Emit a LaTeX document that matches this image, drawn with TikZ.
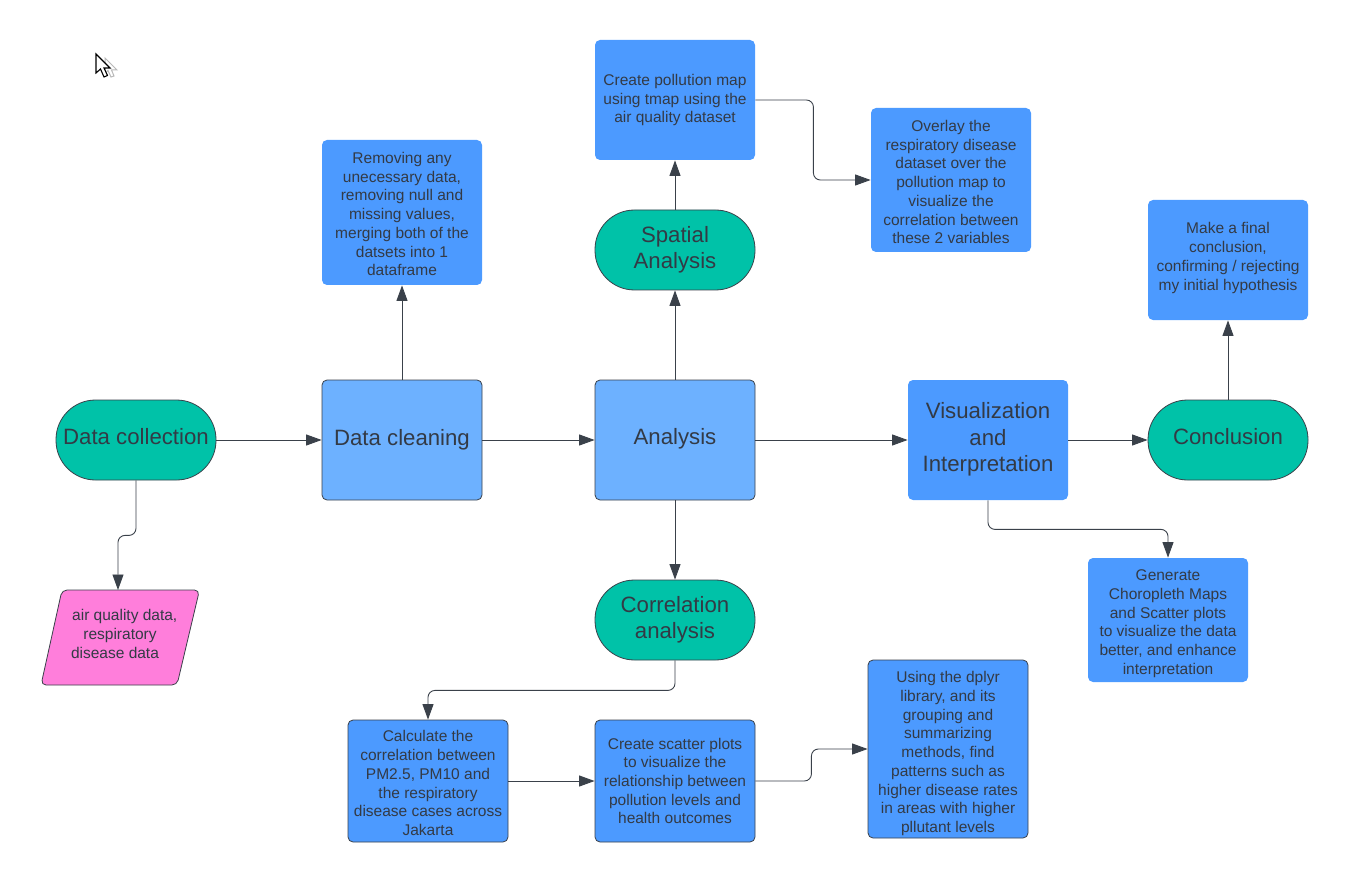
\documentclass[tikz,border=0pt]{standalone}
\usepackage{fontspec}
\setmainfont{Liberation Sans}
\usetikzlibrary{arrows.meta}
\definecolor{inkc}{HTML}{3A414A}
\definecolor{textc}{HTML}{333A45}
\definecolor{greenc}{HTML}{00C2A8}
\definecolor{lightb}{HTML}{6DB1FF}
\definecolor{midb}{HTML}{4C9AFF}
\definecolor{pinkc}{HTML}{FF7EDB}
\newcommand\dnby[1]{\rule{0pt}{\dimexpr 11.5pt+2\dimexpr #1pt\relax\relax}}
\newcommand\upby[1]{\rule[-\dimexpr 3.3pt+2\dimexpr #1pt\relax\relax]{0pt}{1pt}}
\tikzset{
  x=1pt,y=-1pt,
  basebox/.style={inner sep=0pt,align=center,text=textc,line width=0.8pt},
  big/.style={font=\fontsize{22.2}{26.6}\selectfont},
  small/.style={font=\fontsize{15.5}{18.7}\selectfont},
  term/.style={basebox,big,draw=inkc,fill=greenc,minimum width=160pt,minimum height=80pt,rounded corners=39.5pt},
  procbox/.style={basebox,big,draw=inkc,fill=lightb,minimum width=160pt,minimum height=120pt,rounded corners=5pt},
  note/.style={basebox,small,fill=midb,rounded corners=5pt,minimum width=160pt},
  notedark/.style={note,draw=inkc},
  conn/.style={draw=inkc,line width=0.9pt,-{Triangle[length=15.5pt,width=11pt]}},
  elbow/.style={conn,rounded corners=7pt},
}
\begin{document}
\begin{tikzpicture}
\useasboundingbox (0,0) rectangle (1348,882);
\fill[white] (0,0) rectangle (1348,882);
% nodes
\node[term] (dc) at (136,440) {Data collection\upby{1.5}};
\node[procbox] (clean) at (402,440) {\dnby{1}Data cleaning};
\node[procbox] (ana) at (675,440) {Analysis\upby{2}};
\node[note,big,minimum height=120pt] (viz) at (988,440) {Visualization\\and\\Interpretation\upby{1}};
\node[term] (conc) at (1228,440) {Conclusion\upby{1.5}};
\node[term] (spa) at (675,250) {Spatial\\Analysis\upby{1}};
\node[term] (corr) at (675,620) {Correlation\\analysis\upby{1}};
\node[note,minimum height=145pt] (rem) at (402,212.5) {\dnby{1.5}Removing any\\unecessary data,\\removing null and\\missing values,\\merging both of the\\datsets into 1\\dataframe};
\node[note,minimum height=120pt] (map) at (675,100) {Create pollution map\\using tmap using the\\air quality dataset};
\node[note,minimum height=144pt] (over) at (951,180) {\dnby{2}Overlay the\\respiratory disease\\dataset over the\\pollution map to\\visualize the\\correlation between\\these 2 variables};
\node[note,minimum height=120pt] (final) at (1228,260) {Make a final\\conclusion,\\confirming / rejecting\\my initial hypothesis\upby{2}};
\node[note,minimum height=124pt] (gen) at (1168,620) {\dnby{3.5}Generate\\Choropleth Maps\\and Scatter plots\\to visualize the data\\better, and enhance\\interpretation};
\node[notedark,minimum height=122pt] (calc) at (428,781) {\dnby{2}Calculate the\\correlation between\\PM2.5, PM10 and\\the respiratory\\disease cases across\\Jakarta};
\node[notedark,minimum height=122pt] (scat) at (675,781) {Create scatter plots\\to visualize the\\relationship between\\pollution levels and\\health outcomes};
\node[notedark,minimum height=178pt] (dply) at (948,749) {\dnby{4.5}Using the dplyr\\library, and its\\grouping and\\summarizing\\methods, find\\patterns such as\\higher disease rates\\in areas with higher\\pllutant levels};
% parallelogram
\draw[fill=pinkc,draw=inkc,line width=0.8pt,rounded corners=5pt] (62,590) -- (199.5,590) -- (177,685) -- (41,685) -- cycle;
\node[inner sep=0pt,align=center,text=textc,small] (pk) at (120,634) {\hspace*{9.5pt}air quality data,\\respiratory\\disease data\hspace*{10pt}};
\coordinate (pktop) at (118,590);
% connectors
\draw[conn] (dc.east) -- (clean.west);
\draw[conn] (clean.east) -- (ana.west);
\draw[conn] (ana.east) -- (viz.west);
\draw[conn] (viz.east) -- (conc.west);
\draw[conn] (clean.north) -- (rem.south);
\draw[conn] (ana.north) -- (spa.south);
\draw[conn] (spa.north) -- (map.south);
\draw[conn] (ana.south) -- (corr.north);
\draw[conn] (conc.north) -- (final.south);
\draw[conn] (calc.east) -- (scat.west);
\draw[elbow] (dc.south) -- ++(0,55) -| (pktop);
\draw[elbow] (map.east) -- ++(58,0) |- (over.west);
\draw[elbow] (viz.south) -- ++(0,29) -| (gen.north);
\draw[elbow] (corr.south) -- ++(0,30) -| (calc.north);
\draw[elbow] (scat.east) -- ++(56,0) |- (dply.west);
% pointer
\draw[gray!55,fill=white,line width=1pt] (105,58) -- (105,73) -- (108,70.5) -- (111,77) -- (114,76) -- (111.5,70) -- (117,70) -- cycle;
\draw[black,fill=white,line width=1.1pt,line join=miter] (96,54) -- (96,73) -- (100.5,69) -- (104,77) -- (107.5,75.5) -- (104,68) -- (110,68) -- cycle;
\end{tikzpicture}
\end{document}
